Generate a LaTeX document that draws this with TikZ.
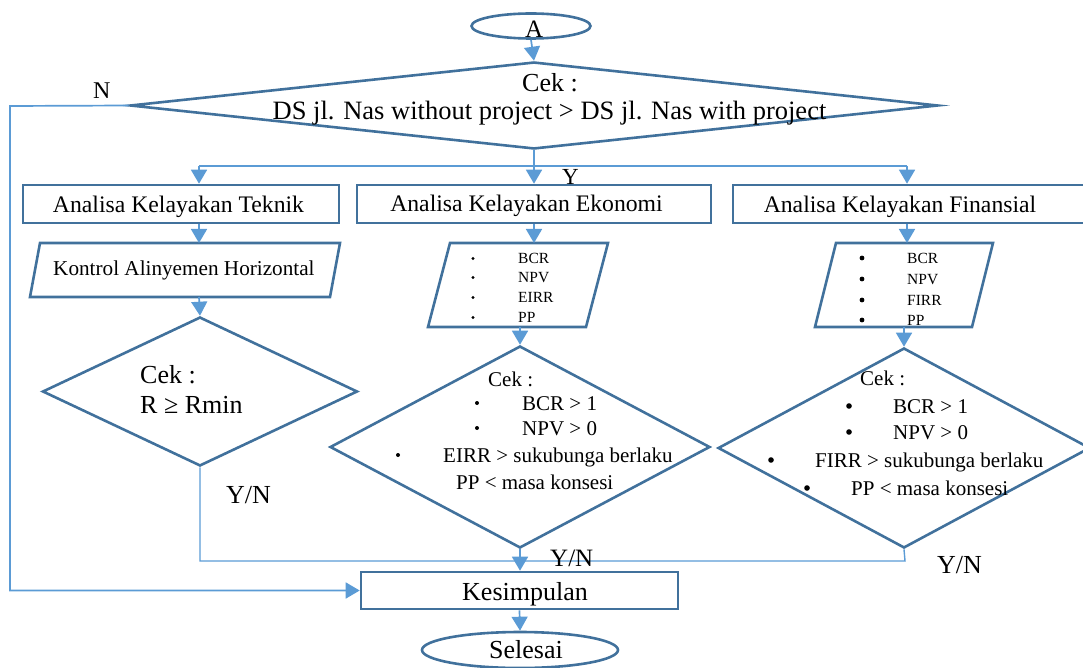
\documentclass[tikz,border=0pt]{standalone}
\usepackage{fontspec}
\setmainfont{Liberation Serif}
\usetikzlibrary{shapes.geometric,arrows.meta}
\definecolor{outl}{HTML}{41719C}
\definecolor{conn}{HTML}{5B9BD5}
\newcommand\fsz[1]{\fontsize{#1}{#1}\selectfont}
\begin{document}
\begin{tikzpicture}[x=1pt,y=-1pt,
  shp/.style={draw=outl,line width=2.6pt,inner sep=0pt},
  hold/.style={inner sep=0pt,outer sep=0pt},
  cn/.style={draw=conn,line width=1.7pt},
  arr/.style={cn,-{Triangle[width=16pt,length=14pt,fill=conn]}},
  lbl/.style={inner sep=0pt,anchor=base west},
  clbl/.style={inner sep=0pt,anchor=base},
  dot/.style={fill=black,draw=none}]
\useasboundingbox (0,0) rectangle (1083,668);
\clip (0,0) rectangle (1083,668);

% ---------- shapes ----------
\node[shp,ellipse,minimum width=119pt,minimum height=25pt] (startA) at (531,26) {};
\node[shp,diamond,minimum width=808pt,minimum height=87pt] (dtop) at (534,105.5) {};

\node[shp,rectangle,minimum width=316pt,minimum height=38pt] (tek) at (181,204) {};
\node[shp,rectangle,minimum width=354pt,minimum height=38pt] (eko) at (534,204) {};
\node[shp,rectangle,minimum width=353pt,minimum height=38pt] (fin) at (909.5,204) {};

% parallelograms (holder nodes + outlines)
\node[hold,minimum width=310pt,minimum height=54pt] (kon) at (185,270) {};
\draw[shp] ([xshift=10pt]kon.north west) -- (kon.north east)
   -- ([xshift=-10pt]kon.south east) -- (kon.south west) -- cycle;
\node[hold,minimum width=180pt,minimum height=84pt] (ekp) at (518,285) {};
\draw[shp] ([xshift=22pt]ekp.north west) -- (ekp.north east)
   -- ([xshift=-22pt]ekp.south east) -- (ekp.south west) -- cycle;
\node[hold,minimum width=178pt,minimum height=84pt] (finp) at (904,285) {};
\draw[shp] ([xshift=21pt]finp.north west) -- (finp.north east)
   -- ([xshift=-21pt]finp.south east) -- (finp.south west) -- cycle;

\node[shp,diamond,minimum width=315pt,minimum height=149pt] (tekd) at (200,391.5) {};
\node[shp,diamond,minimum width=380pt,minimum height=202pt] (ekd) at (520,447) {};
\node[shp,diamond,minimum width=372pt,minimum height=200pt] (find) at (904,448) {};

\node[shp,rectangle,minimum width=317pt,minimum height=37pt] (kes) at (519.5,590.5) {};
\node[shp,ellipse,minimum width=196pt,minimum height=36pt] (sel) at (520,650) {};

% ---------- connectors ----------
\coordinate (nl) at (10,106);
\coordinate (br) at (534,166);
\coordinate (bL) at (199,166);
\coordinate (bR) at (907,166);
\coordinate (jn) at (905,561);

\draw[arr] (startA.south) -- (dtop.north);
\draw[arr] (dtop.west) -- (nl) |- (kes.west);
\draw[cn] (dtop.south) -- (br);
\draw[cn,line width=1.4pt] (bL) -- (bR);
\draw[arr] (bL) -- (bL |- tek.north);
\draw[arr] (br) -- (br |- eko.north);
\draw[arr] (bR) -- (bR |- fin.north);

\draw[arr] (bL |- tek.south) -- (bL |- kon.north);
\draw[arr] (bL |- kon.south) -- (tekd.north);
\draw[arr] (eko.south) -- (eko.south |- ekp.north);
\draw[arr] (ekd.north |- ekp.south) -- (ekd.north);
\draw[arr] (bR |- fin.south) -- (bR |- finp.north);
\draw[arr] (find.north |- finp.south) -- (find.north);

\draw[cn,line width=1.4pt] (tekd.south) |- (jn) -- (find.south);
\draw[arr] (ekd.south) -- (ekd.south |- kes.north);
\draw[arr] (kes.south) -- (sel.north);

% ---------- texts ----------
\node[lbl,font=\fsz{25}] (tA) at (525,38) {A};
\node[lbl,font=\fsz{26}] (tc1) at (522,92) {Cek :};
\node[clbl,font=\fsz{26.5}] (tc2) at (549.5,120) {DS jl. Nas without project > DS jl. Nas with project};
\node[lbl,font=\fsz{24}] (tN) at (93,99) {N};
\node[lbl,font=\fsz{23}] (tY) at (562,185) {Y};

\node[clbl,font=\fsz{23.7}] (ttek) at (178.5,213) {Analisa Kelayakan Teknik};
\node[clbl,font=\fsz{23.7}] (teko) at (526.5,212) {Analisa Kelayakan Ekonomi};
\node[clbl,font=\fsz{23.7}] (tfin) at (900,213) {Analisa Kelayakan Finansial};

\node[lbl,font=\fsz{21.2}] (tkon) at (53,275) {Kontrol Alinyemen Horizontal};

% Ekonomi parallelogram list
\foreach \yy/\tt [count=\i] in {263/BCR,282/NPV,302/EIRR,322/PP}{
  \fill[dot] (473,\yy-4.5) circle (1.6pt);
  \node[lbl,font=\fsz{15.5}] (ep\i) at (518,\yy) {\tt};
}
% Finansial parallelogram list
\foreach \yy/\tt [count=\i] in {263/BCR,284/NPV,305/FIRR,325/PP}{
  \fill[dot] (862,\yy-5) circle (2.4pt);
  \node[lbl,font=\fsz{15.5}] (fp\i) at (907,\yy) {\tt};
}

% Teknik diamond
\node[lbl,font=\fsz{26}] (tk1) at (140,383) {Cek :};
\node[lbl,font=\fsz{26}] (tk2) at (140,413) {R ≥ Rmin};

% Ekonomi diamond
\node[lbl,font=\fsz{21}] (ek1) at (488,386) {Cek :};
\fill[dot] (477,403) circle (2pt);
\node[lbl,font=\fsz{21}] (ek2) at (522,410) {BCR > 1};
\fill[dot] (477,428) circle (2pt);
\node[lbl,font=\fsz{21}] (ek3) at (522,435) {NPV > 0};
\fill[dot] (398,455) circle (2pt);
\node[lbl,font=\fsz{21}] (ek4) at (443,462) {EIRR > sukubunga berlaku};
\node[lbl,font=\fsz{21}] (ek5) at (456,489) {PP < masa konsesi};

% Finansial diamond
\node[lbl,font=\fsz{21}] (fd1) at (860,385) {Cek :};
\fill[dot] (849,406) circle (2.8pt);
\node[lbl,font=\fsz{21}] (fd2) at (893,413) {BCR > 1};
\fill[dot] (849,432) circle (2.8pt);
\node[lbl,font=\fsz{21}] (fd3) at (893,439) {NPV > 0};
\fill[dot] (771,460) circle (2.8pt);
\node[lbl,font=\fsz{21}] (fd4) at (815,467) {FIRR > sukubunga berlaku};
\fill[dot] (807,488) circle (2.8pt);
\node[lbl,font=\fsz{21}] (fd5) at (851,495) {PP < masa konsesi};

% Y/N labels
\node[lbl,font=\fsz{26}] (yn1) at (226,503) {Y/N};
\node[lbl,font=\fsz{25}] (yn2) at (550,566) {Y/N};
\node[lbl,font=\fsz{26}] (yn3) at (937,573) {Y/N};

\node[clbl,font=\fsz{26}] (tkes) at (525,600) {Kesimpulan};
\node[clbl,font=\fsz{26}] (tsel) at (526,658) {Selesai};
\end{tikzpicture}
\end{document}
